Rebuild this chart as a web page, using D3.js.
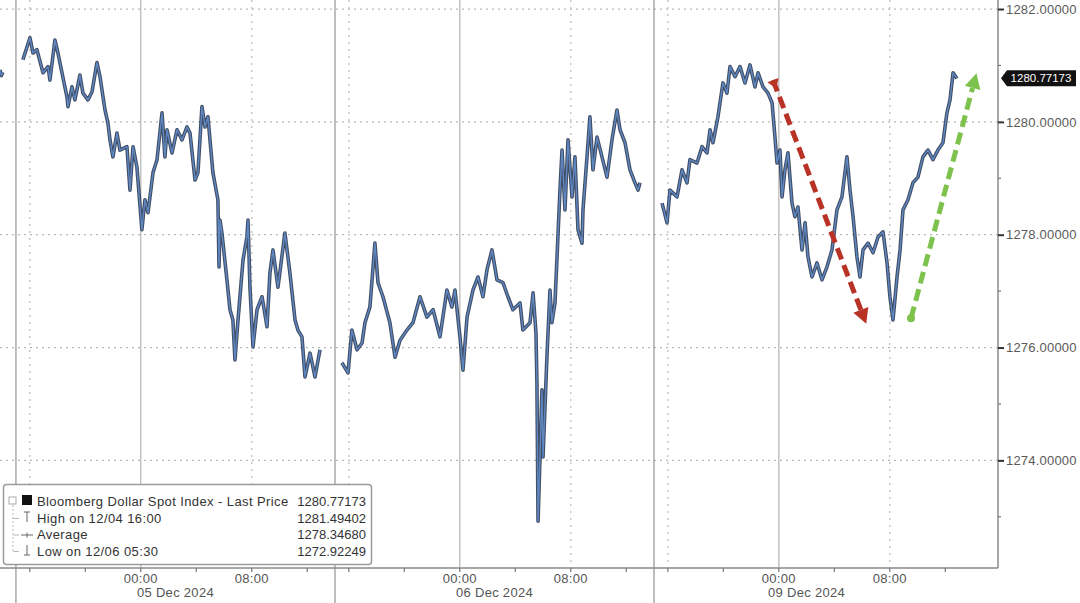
<!DOCTYPE html>
<html><head><meta charset="utf-8">
<script src="https://cdn.jsdelivr.net/npm/d3@7"></script>
<style>body{margin:0;background:#fff}svg{display:block}</style>
</head><body>
<svg id="c" width="1080" height="603"></svg>
<script>
// x values are trading hours since the 15:00 (PT) session open on 04 Dec 2024 (daily 14:00-15:00 break and weekend removed)
const prevT = [-1.15, -1.05, -0.95];
const prevV = [1280.92, 1280.82, 1280.88];
const s1T = [0.50,1.01,1.23,1.51,1.95,2.31,2.45,2.81,3.03,3.32,3.68,3.75,4.04,4.25,4.61,4.83,5.19,5.48,5.84,6.06,6.42,6.63,6.78,6.99,7.28,7.50,8.00,8.22,8.44,8.72,9.08,9.30,9.52,9.88,10.17,10.53,10.74,10.89,11.25,11.61,11.97,12.33,12.55,12.91,13.12,13.41,13.63,13.84,14.20,14.56,14.64,14.71,14.85,15.21,15.43,15.64,15.79,16.01,16.37,16.65,16.73,16.87,17.09,17.38,17.74,18.10,18.31,18.53,18.89,19.39,19.75,20.12,20.33,20.62,20.84,21.20,21.56,21.92];
const s1V = [1281.10,1281.49,1281.22,1281.28,1280.87,1280.98,1280.74,1281.45,1281.22,1280.87,1280.44,1280.27,1280.62,1280.39,1280.83,1280.51,1280.39,1280.53,1281.05,1280.80,1280.21,1279.98,1279.68,1279.38,1279.80,1279.50,1279.56,1278.79,1279.56,1279.20,1278.09,1278.62,1278.39,1279.10,1279.33,1280.16,1279.38,1279.86,1279.45,1279.86,1279.68,1279.91,1279.80,1278.97,1279.10,1280.27,1279.91,1280.09,1279.10,1278.62,1277.43,1278.26,1278.03,1277.20,1276.67,1276.49,1275.78,1276.49,1277.55,1277.96,1278.26,1277.07,1276.01,1276.67,1276.90,1276.37,1277.32,1277.73,1277.07,1278.03,1277.32,1276.49,1276.31,1276.19,1275.48,1275.90,1275.48,1275.96];
const s2T = [23.50,23.94,24.22,24.59,24.95,25.16,25.52,25.88,26.10,26.46,26.96,27.33,27.69,28.19,28.62,29.13,29.63,30.07,30.57,31.07,31.43,31.65,32.01,32.23,32.52,32.95,33.31,33.67,33.96,34.32,34.68,35.11,35.47,35.83,36.34,36.55,37.06,37.28,37.49,37.56,37.64,37.78,37.92,38.00,38.28,38.50,38.64,38.86,39.01,39.22,39.37,39.58,39.80,40.09,40.30,40.52,40.81,40.88,41.17,41.38,41.60,41.89,42.25,42.61,42.97,43.33,43.55,43.91,44.27,44.63,44.85,44.99];
const s2V = [1275.73,1275.55,1276.31,1275.96,1276.08,1276.44,1276.72,1277.85,1277.15,1276.90,1276.44,1275.83,1276.13,1276.31,1276.44,1276.90,1276.54,1276.67,1276.19,1277.02,1276.72,1277.02,1276.19,1275.60,1276.54,1277.02,1277.25,1276.90,1277.38,1277.73,1277.20,1277.15,1276.90,1276.67,1276.79,1276.31,1276.44,1276.97,1276.26,1275.37,1272.92,1274.06,1275.25,1274.06,1275.83,1277.02,1276.44,1276.79,1277.61,1278.79,1279.50,1278.44,1279.68,1278.67,1279.38,1278.09,1277.85,1278.44,1279.38,1280.09,1279.15,1279.73,1279.38,1279.02,1279.68,1280.21,1279.86,1279.63,1279.15,1278.92,1278.79,1278.92];
const s3T = [46.58,46.94,47.15,47.66,48.02,48.38,48.59,49.10,49.46,49.82,50.04,50.25,50.61,50.97,51.26,51.48,51.84,52.20,52.56,52.92,53.28,53.50,53.86,54.22,54.51,54.72,54.87,55.08,55.23,55.44,55.66,55.95,56.16,56.38,56.67,56.89,57.10,57.39,57.75,58.11,58.47,58.83,59.19,59.55,59.91,60.13,60.35,60.63,60.85,61.07,61.43,61.79,62.15,62.51,62.80,63.01,63.23,63.52,63.74,63.95,64.31,64.67,65.03,65.39,65.75,66.11,66.47,66.83,67.12,67.34,67.56,67.84];
const s3V = [1278.56,1278.21,1278.79,1278.67,1279.15,1278.92,1279.33,1279.27,1279.56,1279.45,1279.86,1279.63,1280.09,1280.69,1280.51,1280.98,1280.80,1280.98,1280.69,1281.01,1280.62,1280.87,1280.62,1280.51,1280.34,1279.73,1279.27,1279.50,1278.67,1279.15,1279.45,1278.56,1278.32,1278.49,1277.73,1278.21,1277.61,1277.25,1277.50,1277.20,1277.43,1277.73,1278.44,1278.67,1279.38,1278.79,1278.32,1277.61,1277.25,1277.73,1277.85,1277.68,1277.96,1278.05,1277.50,1276.90,1276.49,1277.25,1277.73,1278.44,1278.62,1278.92,1279.02,1279.38,1279.50,1279.33,1279.50,1279.63,1280.16,1280.39,1280.87,1280.77];

const yTicks = [1274, 1276, 1278, 1280, 1282];
const yMinor = [1273, 1275, 1277, 1279, 1281];
const sessionLines = [0, 23, 46];
const midnightLines = [9, 32, 55];
const dottedLines = [1, 17, 24, 40, 47, 63];
const xTicks = [1,5,9,13,17,21,24,28,32,36,40,44,47,51,55,59,63,67];
const xLabelT = [9, 17, 32, 40, 55, 63];
const xLabels = ["00:00","08:00","00:00","08:00","00:00","08:00"];
const dayLabelT = [11.5, 34.5, 57.0];
const dayLabels = ["05 Dec 2024", "06 Dec 2024", "09 Dec 2024"];
const legendNames = ["Bloomberg Dollar Spot Index - Last Price", "High on 12/04 16:00", "Average", "Low on 12/06 05:30"];
const legendValues = ["1280.77173", "1281.49402", "1278.34680", "1272.92249"];
const lastPrice = 1280.77173;
const downArrow = [[54.58, 1280.74], [61.30, 1276.42]];
const upArrow = [[64.53, 1276.52], [69.25, 1280.86]];

const svg = d3.select("#c");
const W = 1080, H = 603, R = 998, B = 568;
const x = d3.scaleLinear().domain([-1.15, 70.8]).range([0, R]);
const y = d3.scaleLinear().domain([1272.11, 1282.16]).range([567, 0]);
const font = "'Liberation Sans', Arial, sans-serif";

svg.append("rect").attr("width", W).attr("height", H).attr("fill", "#fff");

// grid
const g = svg.append("g");
g.selectAll(".hg").data(yTicks).join("line")
  .attr("x1", 0).attr("x2", R).attr("y1", d => y(d)).attr("y2", d => y(d))
  .attr("stroke", "#b8b8b8").attr("stroke-width", 1.3).attr("stroke-dasharray", "2,4");
g.selectAll(".dg").data(dottedLines).join("line")
  .attr("x1", d => x(d)).attr("x2", d => x(d)).attr("y1", 0).attr("y2", B)
  .attr("stroke", "#c0c0c0").attr("stroke-width", 1.3).attr("stroke-dasharray", "2,5");
g.selectAll(".ml").data(midnightLines).join("line")
  .attr("x1", d => x(d)).attr("x2", d => x(d)).attr("y1", 0).attr("y2", B)
  .attr("stroke", "#b4b4b4").attr("stroke-width", 1.2);
g.selectAll(".sl").data(sessionLines).join("line")
  .attr("x1", d => x(d)).attr("x2", d => x(d)).attr("y1", 0).attr("y2", H)
  .attr("stroke", "#9a9a9a").attr("stroke-width", 1.3);

// price line
const line = d3.line().x(d => x(d[0])).y(d => y(d[1]));
const segs = [d3.zip(prevT, prevV), d3.zip(s1T, s1V), d3.zip(s2T, s2V), d3.zip(s3T, s3V)];
svg.append("g").selectAll("path").data(segs).join("path")
  .attr("d", line).attr("fill", "none").attr("stroke", "#27354e")
  .attr("stroke-width", 3.6).attr("stroke-linejoin", "round").attr("opacity", 0.88);
svg.append("g").selectAll("path").data(segs).join("path")
  .attr("d", line).attr("fill", "none").attr("stroke", "#5f87c2")
  .attr("stroke-width", 1.4).attr("stroke-linejoin", "round");

// arrows
function arrow(pts, color, startShape) {
  const [p0, p1] = pts.map(p => [x(p[0]), y(p[1])]);
  const ang = Math.atan2(p1[1] - p0[1], p1[0] - p0[0]);
  const hl = 15, hw = 8;
  const bx = p1[0] - hl * Math.cos(ang), by = p1[1] - hl * Math.sin(ang);
  svg.append("line").attr("x1", p0[0]).attr("y1", p0[1]).attr("x2", bx).attr("y2", by)
    .attr("stroke", color).attr("stroke-width", 5).attr("stroke-dasharray", "12,6");
  const nx = -Math.sin(ang), ny = Math.cos(ang);
  svg.append("path").attr("d", `M${p1[0]},${p1[1]}L${bx + nx * hw},${by + ny * hw}L${bx - nx * hw},${by - ny * hw}Z`)
    .attr("fill", color);
  if (startShape === "dot") {
    svg.append("circle").attr("cx", p0[0]).attr("cy", p0[1]).attr("r", 4).attr("fill", color);
  } else {
    const s = 6;
    svg.append("path").attr("d", `M${p0[0] - nx * s},${p0[1] - ny * s}L${p0[0] + nx * s},${p0[1] + ny * s}L${p0[0] + 9 * Math.cos(ang)},${p0[1] + 9 * Math.sin(ang)}Z`)
      .attr("fill", color);
  }
}
arrow(downArrow, "#b83226", "tri");
arrow(upArrow, "#7ec24e", "dot");

// axes
svg.append("line").attr("x1", 0).attr("x2", R).attr("y1", B).attr("y2", B).attr("stroke", "#8a8a8a").attr("stroke-width", 1.5);
svg.append("line").attr("x1", R).attr("x2", R).attr("y1", 0).attr("y2", B).attr("stroke", "#8a8a8a").attr("stroke-width", 1.5);

const ya = svg.append("g").attr("transform", `translate(${R},0)`)
  .call(d3.axisRight(y).tickValues(yTicks).tickFormat(d3.format(".5f")).tickSize(6).tickPadding(2));
ya.select(".domain").remove();
ya.selectAll(".tick line").attr("stroke", "#333").attr("stroke-width", 2);
ya.selectAll(".tick text").attr("font-family", font).attr("font-size", 13).attr("letter-spacing", 0.2).attr("fill", "#5a5a5a");
svg.append("g").selectAll("line").data(yMinor).join("line")
  .attr("x1", R).attr("x2", R + 3).attr("y1", d => y(d)).attr("y2", d => y(d))
  .attr("stroke", "#777").attr("stroke-width", 1.2);

svg.append("g").selectAll("line").data(xTicks).join("line")
  .attr("x1", d => x(d)).attr("x2", d => x(d)).attr("y1", B).attr("y2", B + 4)
  .attr("stroke", "#777").attr("stroke-width", 1.2);
svg.append("g").selectAll("text").data(xLabelT).join("text")
  .attr("x", d => x(d)).attr("y", 583).attr("text-anchor", "middle")
  .attr("font-family", font).attr("font-size", 13).attr("letter-spacing", 0.3).attr("fill", "#555")
  .text((d, i) => xLabels[i]);
svg.append("g").selectAll("text").data(dayLabelT).join("text")
  .attr("x", d => x(d)).attr("y", 597).attr("text-anchor", "middle")
  .attr("font-family", font).attr("font-size", 13).attr("letter-spacing", 0.3).attr("fill", "#555")
  .text((d, i) => dayLabels[i]);

// last price tag
const ty = y(lastPrice);
svg.append("path").attr("d", `M${R + 3},${ty}L${R + 9},${ty - 8}L1076,${ty - 8}L1076,${ty + 8}L${R + 9},${ty + 8}Z`).attr("fill", "#111");
svg.append("text").attr("x", 1041).attr("y", ty + 4).attr("text-anchor", "middle")
  .attr("font-family", font).attr("font-size", 11.5).attr("fill", "#fff").text(lastPrice.toFixed(5));

// legend
const lg = svg.append("g");
lg.append("rect").attr("x", 3.5).attr("y", 484.5).attr("width", 368).attr("height", 80).attr("rx", 3)
  .attr("fill", "#fff").attr("stroke", "#9b9b9b").attr("stroke-width", 1.5);
const rowY = [506, 522.5, 539, 555.5];
lg.append("line").attr("x1", 13).attr("x2", 13).attr("y1", 505).attr("y2", 551).attr("stroke", "#bbb").attr("stroke-dasharray", "2,2");
rowY.slice(1).forEach(ry => lg.append("line").attr("x1", 13).attr("x2", 19).attr("y1", ry - 4).attr("y2", ry - 4).attr("stroke", "#bbb"));
lg.append("rect").attr("x", 9).attr("y", 497).attr("width", 7).attr("height", 7).attr("fill", "#fff").attr("stroke", "#aaa");
lg.append("rect").attr("x", 22).attr("y", 495).attr("width", 10).attr("height", 10).attr("fill", "#111");
// high icon
lg.append("line").attr("x1", 27).attr("x2", 27).attr("y1", 512).attr("y2", 522).attr("stroke", "#666");
lg.append("line").attr("x1", 24).attr("x2", 30).attr("y1", 512).attr("y2", 512).attr("stroke", "#666");
// avg icon
lg.append("line").attr("x1", 21).attr("x2", 33).attr("y1", 535).attr("y2", 535).attr("stroke", "#666");
lg.append("line").attr("x1", 27).attr("x2", 27).attr("y1", 532.5).attr("y2", 537.5).attr("stroke", "#666");
// low icon
lg.append("line").attr("x1", 27).attr("x2", 27).attr("y1", 545).attr("y2", 555).attr("stroke", "#666");
lg.append("line").attr("x1", 24).attr("x2", 30).attr("y1", 555).attr("y2", 555).attr("stroke", "#666");
lg.selectAll(".ln").data(legendNames).join("text")
  .attr("x", 37).attr("y", (d, i) => rowY[i]).attr("font-family", font).attr("font-size", 13).attr("letter-spacing", 0.4).attr("fill", "#333")
  .text(d => d);
lg.selectAll(".lv").data(legendValues).join("text")
  .attr("x", 366).attr("y", (d, i) => rowY[i]).attr("text-anchor", "end").attr("font-family", font).attr("font-size", 13).attr("fill", "#333")
  .text(d => d);
</script>
</body></html>
